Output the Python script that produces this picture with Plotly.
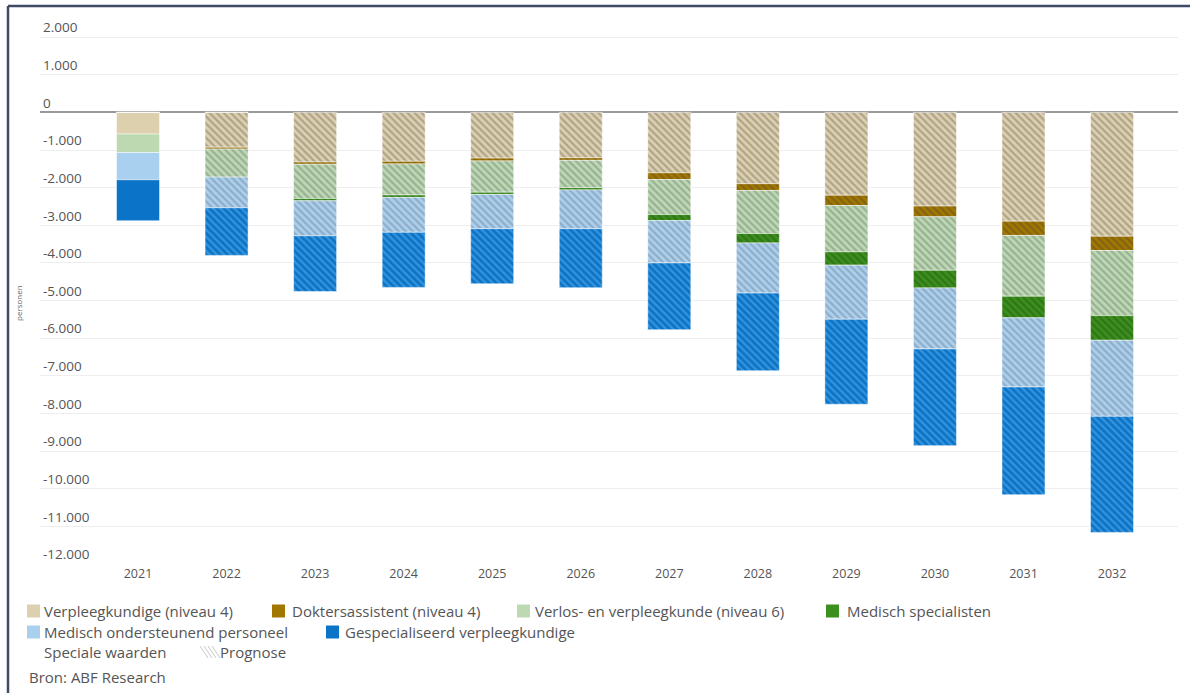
import plotly.graph_objects as go

# Tekort aan zorgpersoneel per beroepsgroep (personen), 2021 realisatie, 2022-2032 prognose
years = ["2021", "2022", "2023", "2024", "2025", "2026",
         "2027", "2028", "2029", "2030", "2031", "2032"]
verpleegkundige = [-575, -925, -1320, -1300, -1215, -1205,
                   -1605, -1895, -2200, -2490, -2890, -3290]
doktersassistent = [0, -50, -60, -70, -75, -70,
                    -180, -180, -275, -285, -380, -380]
verlos_verpleegkunde = [-490, -745, -910, -825, -830, -725,
                        -930, -1145, -1230, -1420, -1615, -1730]
medisch_specialisten = [0, 0, -60, -65, -60, -60,
                        -160, -250, -355, -470, -575, -655]
ondersteunend = [-725, -815, -930, -925, -910, -1030,
                 -1125, -1330, -1435, -1620, -1835, -2020]
gespecialiseerd = [-1090, -1265, -1480, -1465, -1465, -1570,
                   -1775, -2065, -2260, -2570, -2865, -3085]
prognose = [False] + [True] * 11

y_ticks = [2000, 1000, 0, -1000, -2000, -3000, -4000, -5000, -6000,
           -7000, -8000, -9000, -10000, -11000, -12000]
y_ticktext = ["2.000", "1.000", "0", "-1.000", "-2.000", "-3.000", "-4.000",
              "-5.000", "-6.000", "-7.000", "-8.000", "-9.000", "-10.000",
              "-11.000", "-12.000"]

series = [
    ("Verpleegkundige (niveau 4)", verpleegkundige, "#ddd0ae", "#7f786a"),
    ("Doktersassistent (niveau 4)", doktersassistent, "#a27700", "#5f4f26"),
    ("Verlos- en verpleegkunde (niveau 6)", verlos_verpleegkunde, "#bcd9b2", "#76857a"),
    ("Medisch specialisten", medisch_specialisten, "#3b8f1c", "#245a14"),
    ("Medisch ondersteunend personeel", ondersteunend, "#aad0ef", "#78889a"),
    ("Gespecialiseerd verpleegkundige", gespecialiseerd, "#0b74c8", "#62b2ec"),
]

FONT = "Open Sans"
W, H = 1197, 693
PL, PR, PT, PB = 40, 1178, 7, 564
Y_MIN, Y_MAX = -12000, 2800


def px(x):
    return (x - PL) / (PR - PL)


def py(y):
    return (PB - y) / (PB - PT)


fig = go.Figure()
shapes_flag = ["\\" if p else "" for p in prognose]
for name, vals, color, hatch in series:
    fig.add_trace(go.Bar(
        x=years, y=vals, name=name,
        marker=dict(
            color=color,
            line=dict(color="rgba(255,255,255,0.85)", width=0.6),
            pattern=dict(shape=shapes_flag, fgcolor=hatch, size=5,
                         solidity=0.45, fillmode="overlay"),
        ),
        showlegend=False, hoverinfo="skip",
    ))

fig.update_layout(
    width=W, height=H,
    margin=dict(l=PL, r=W - PR, t=PT, b=H - PB),
    barmode="relative", bargap=0.514,
    plot_bgcolor="white", paper_bgcolor="white",
    font=dict(family=FONT, size=12, color="#555"),
)
fig.update_xaxes(
    type="category", range=[-1.107, 11.745],
    showgrid=False, showline=False, zeroline=False,
    ticks="", ticklen=0,
    tickfont=dict(family=FONT, size=12.5, color="#555"),
)
fig.update_yaxes(
    range=[Y_MIN, Y_MAX], tickvals=y_ticks, ticktext=y_ticktext,
    ticklabelposition="inside top",
    showgrid=True, gridcolor="#eeeeee", gridwidth=1,
    zeroline=True, zerolinecolor="#9a9a9a", zerolinewidth=2,
    showline=False,
    tickfont=dict(family=FONT, size=13.5, color="#555"),
)

annotations = []
shapes = []

# y-as titel
annotations.append(dict(
    text="personen", xref="paper", yref="paper", x=px(18), y=py(303),
    showarrow=False, textangle=-90, font=dict(size=8, color="#666"),
    xanchor="center", yanchor="middle",
))

# legenda
LEG_SIZE = 15
rows = {1: 611, 2: 632, 3: 652}
legend_items = [
    (1, 27, 42, series[0][2], series[0][0]),
    (1, 272, 290, series[1][2], series[1][0]),
    (1, 517, 533, series[2][2], series[2][0]),
    (1, 826, 845, series[3][2], series[3][0]),
    (2, 27, 42, series[4][2], series[4][0]),
    (2, 326, 343, series[5][2], series[5][0]),
]
for row, sx, tx, color, label in legend_items:
    yc = rows[row]
    shapes.append(dict(type="rect", xref="paper", yref="paper",
                       x0=px(sx), x1=px(sx + 13), y0=py(yc + 6.5), y1=py(yc - 6.5),
                       fillcolor=color, line=dict(width=0)))
    annotations.append(dict(text=label, xref="paper", yref="paper",
                            x=px(tx), y=py(yc), xanchor="left", yanchor="middle",
                            showarrow=False, font=dict(size=LEG_SIZE, color="#555")))

annotations.append(dict(text="Speciale waarden", xref="paper", yref="paper",
                        x=px(42), y=py(rows[3]), xanchor="left", yanchor="middle",
                        showarrow=False, font=dict(size=LEG_SIZE, color="#555")))
# arcering-symbool voor Prognose
for k in range(4):
    x0 = 200 + k * 4
    shapes.append(dict(type="line", xref="paper", yref="paper",
                       x0=px(x0), y0=py(rows[3] - 6), x1=px(x0 + 8), y1=py(rows[3] + 6),
                       line=dict(color="#c8c8c8", width=1)))
annotations.append(dict(text="Prognose", xref="paper", yref="paper",
                        x=px(218), y=py(rows[3]), xanchor="left", yanchor="middle",
                        showarrow=False, font=dict(size=LEG_SIZE, color="#555")))
annotations.append(dict(text="Bron: ABF Research", xref="paper", yref="paper",
                        x=px(27), y=py(677), xanchor="left", yanchor="middle",
                        showarrow=False, font=dict(size=LEG_SIZE, color="#555")))

# kader
shapes.append(dict(type="line", xref="paper", yref="paper",
                   x0=px(8), x1=px(1190), y0=py(6), y1=py(6),
                   line=dict(color="#3f4a66", width=2.5)))
shapes.append(dict(type="line", xref="paper", yref="paper",
                   x0=px(8), x1=px(8), y0=py(6), y1=py(700),
                   line=dict(color="#3f4a66", width=2.5)))

fig.update_layout(annotations=annotations, shapes=shapes)
fig.write_html("out.html")
